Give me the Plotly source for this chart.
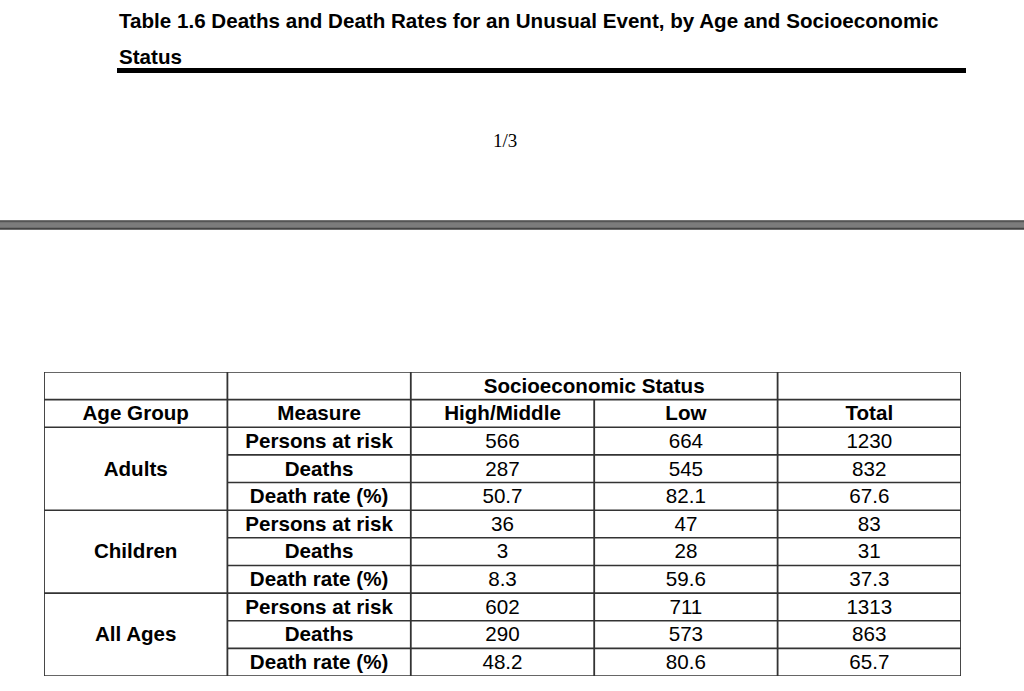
import plotly.graph_objects as go

# ---------------- data ----------------
title_line1 = "Table 1.6 Deaths and Death Rates for an Unusual Event, by Age and Socioeconomic"
title_line2 = "Status"
page_label = "1/3"

group_header = "Socioeconomic Status"
column_headers = ["Age Group", "Measure", "High/Middle", "Low", "Total"]
age_groups = ["Adults", "Children", "All Ages"]
measures = ["Persons at risk", "Deaths", "Death rate (%)"]
high_middle = [566, 287, 50.7, 36, 3, 8.3, 602, 290, 48.2]
low = [664, 545, 82.1, 47, 28, 59.6, 711, 573, 80.6]
total = [1230, 832, 67.6, 83, 31, 37.3, 1313, 863, 65.7]

W, H = 1024, 691
FONT = "Liberation Sans, Arial, sans-serif"
FS = 20.6
TEXT_DY = 0.06  # small downward nudge of cell text (in row units)
n_cols = len(column_headers)
n_header_rows = 2
n_rows = n_header_rows + len(age_groups) * len(measures)

def fmt(v, measure):
    return f"{v:.1f}" if "rate" in measure else f"{int(v)}"

# ---------------- text cells ----------------
bold_x, bold_y, bold_t = [], [], []
reg_x, reg_y, reg_t = [], [], []

bold_x.append(3.0); bold_y.append(0.5 + TEXT_DY); bold_t.append(f"<b>{group_header}</b>")
for c, h in enumerate(column_headers):
    bold_x.append(c + 0.5); bold_y.append(1.5 + TEXT_DY); bold_t.append(f"<b>{h}</b>")

for g, grp in enumerate(age_groups):
    r0 = n_header_rows + g * len(measures)
    bold_x.append(0.5); bold_y.append(r0 + len(measures) / 2 + TEXT_DY); bold_t.append(f"<b>{grp}</b>")
    for m, meas in enumerate(measures):
        r = r0 + m
        i = g * len(measures) + m
        bold_x.append(1.5); bold_y.append(r + 0.5 + TEXT_DY); bold_t.append(f"<b>{meas}</b>")
        for c, series in enumerate([high_middle, low, total]):
            reg_x.append(2.5 + c); reg_y.append(r + 0.5 + TEXT_DY); reg_t.append(fmt(series[i], meas))

fig = go.Figure()
fig.add_trace(go.Scatter(x=bold_x, y=bold_y, text=bold_t, mode="text",
                         textposition="middle center",
                         textfont=dict(family=FONT, size=FS, color="#000000"),
                         hoverinfo="skip", showlegend=False))
fig.add_trace(go.Scatter(x=reg_x, y=reg_y, text=reg_t, mode="text",
                         textposition="middle center",
                         textfont=dict(family=FONT, size=FS, color="#000000"),
                         hoverinfo="skip", showlegend=False))

# ---------------- table grid ----------------
shapes = []
LC = "#333333"
for r in range(n_rows + 1):
    inner = r > n_header_rows and (r - n_header_rows) % len(measures) != 0
    x0 = 1 if inner else 0
    shapes.append(dict(type="line", xref="x", yref="y", x0=x0, x1=n_cols, y0=r, y1=r,
                       line=dict(color=LC, width=1.6)))
for c in range(n_cols + 1):
    y0 = 1 if c == 3 else 0
    shapes.append(dict(type="line", xref="x", yref="y", x0=c, x1=c, y0=y0, y1=n_rows,
                       line=dict(color=LC, width=1.8)))

# ---------------- page decorations ----------------
def py(p):
    return 1 - p / H

shapes.append(dict(type="rect", xref="paper", yref="paper", x0=117 / W, x1=966 / W,
                   y0=py(73), y1=py(68), fillcolor="#000000", line=dict(width=0)))
shapes.append(dict(type="rect", xref="paper", yref="paper", x0=0, x1=1,
                   y0=py(230), y1=py(220), fillcolor="#7c7c7c", line=dict(width=0)))
shapes.append(dict(type="line", xref="paper", yref="paper", x0=0, x1=1,
                   y0=py(221.5), y1=py(221.5), line=dict(color="#555555", width=1.5)))
shapes.append(dict(type="line", xref="paper", yref="paper", x0=0, x1=1,
                   y0=py(228.5), y1=py(228.5), line=dict(color="#444444", width=1.5)))

annotations = [
    dict(text=f"<b>{title_line1}</b>", xref="paper", yref="paper", x=117 / W, y=py(20),
         xanchor="left", yanchor="middle", showarrow=False,
         font=dict(family=FONT, size=FS, color="#000000")),
    dict(text=f"<b>{title_line2}</b>", xref="paper", yref="paper", x=117 / W, y=py(56),
         xanchor="left", yanchor="middle", showarrow=False,
         font=dict(family=FONT, size=FS, color="#000000")),
    dict(text=page_label, xref="paper", yref="paper", x=505 / W, y=py(140),
         xanchor="center", yanchor="middle", showarrow=False,
         font=dict(family="Liberation Serif, Times New Roman, serif", size=19, color="#000000")),
]

fig.update_layout(
    width=W, height=H,
    margin=dict(l=0, r=0, t=0, b=0),
    paper_bgcolor="#ffffff", plot_bgcolor="#ffffff",
    shapes=shapes, annotations=annotations,
    xaxis=dict(domain=[44 / W, 961 / W], range=[0, n_cols], visible=False, fixedrange=True),
    yaxis=dict(domain=[1 - 676 / H, 1 - 372 / H], range=[n_rows, 0], visible=False, fixedrange=True),
    showlegend=False,
)

fig.write_html("out.html", config={"displayModeBar": False},
               post_script="document.body.style.margin='0';document.body.style.overflow='hidden';")
